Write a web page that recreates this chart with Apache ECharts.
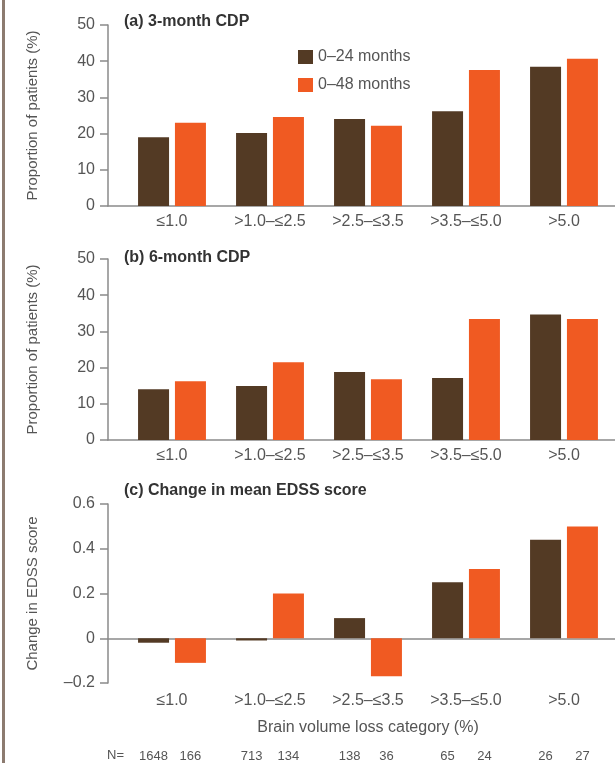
<!DOCTYPE html>
<html>
<head>
<meta charset="utf-8">
<script src="https://cdn.jsdelivr.net/npm/echarts@6/dist/echarts.min.js"></script>
<style>
  html, body { margin: 0; padding: 0; background: #ffffff; }
  #chart { width: 615px; height: 763px; }
</style>
</head>
<body>
<div id="chart"></div>
<script>
// Brain volume loss categories and the two observation windows
const categories = ['≤1.0', '>1.0–≤2.5', '>2.5–≤3.5', '>3.5–≤5.0', '>5.0'];
const seriesNames = ['0–24 months', '0–48 months'];

// (a) 3-month confirmed disability progression, % of patients
const cdp3m24 = [19.0, 20.2, 24.0, 26.2, 38.5];
const cdp3m48 = [23.0, 24.6, 22.2, 37.6, 40.7];

// (b) 6-month confirmed disability progression, % of patients
const cdp6m24 = [14.0, 14.9, 18.8, 17.1, 34.7];
const cdp6m48 = [16.2, 21.5, 16.8, 33.4, 33.4];

// (c) change in mean EDSS score
const edss24 = [-0.02, -0.01, 0.09, 0.25, 0.44];
const edss48 = [-0.11, 0.20, -0.17, 0.31, 0.50];

// patient counts per category
const n24 = [1648, 713, 138, 65, 26];
const n48 = [166, 134, 36, 24, 27];

const panelTitles = ['(a) 3-month CDP', '(b) 6-month CDP', '(c) Change in mean EDSS score'];
const yTitles = ['Proportion of patients (%)', 'Proportion of patients (%)', 'Change in EDSS score'];
const xTitle = 'Brain volume loss category (%)';

const BROWN = '#533a24';
const ORANGE = '#f05a22';
const TEXT = '#555555';
const AXIS = '#8a8a8a';
const FONT = 'Arial, "Liberation Sans", Helvetica, sans-serif';

const panels = [
  { top: 25,  height: 181, min: 0,    max: 50,  interval: 10,  a: cdp3m24, b: cdp3m48, titleTop: 14 },
  { top: 259, height: 181, min: 0,    max: 50,  interval: 10,  a: cdp6m24, b: cdp6m48, titleTop: 250 },
  { top: 504, height: 179, min: -0.2, max: 0.6, interval: 0.2, a: edss24,  b: edss48,  titleTop: 483 }
];

function tickFormat(i) {
  return function (v) {
    if (i < 2) return String(v);
    if (Math.abs(v) < 1e-9) return '0';
    return (v < 0 ? '–' : '') + Math.abs(v).toFixed(1);
  };
}

const grid = [], xAxis = [], yAxis = [], series = [], title = [];

panels.forEach(function (p, i) {
  // frame grid: carries the value axis and the zero baseline
  grid.push({ left: 108, right: 0, top: p.top, height: p.height });
  // bar grid: carries the category bands
  grid.push({ left: 123, right: 2, top: p.top, height: p.height });
  const gFrame = 2 * i, gBars = 2 * i + 1;

  xAxis.push({
    gridIndex: gFrame, type: 'category', data: [''],
    axisLine: { show: true, onZero: true, lineStyle: { color: AXIS, width: 1.5 } },
    axisTick: { show: false }, axisLabel: { show: false }, splitLine: { show: false }
  });
  yAxis.push({
    gridIndex: gFrame, type: 'value', min: p.min, max: p.max, interval: p.interval,
    axisLine: { show: true, lineStyle: { color: AXIS, width: 1.5 } },
    axisTick: { show: true, length: 8, lineStyle: { color: AXIS, width: 1.5 } },
    axisLabel: { color: TEXT, fontSize: 16, fontFamily: FONT, margin: 13, formatter: tickFormat(i) },
    splitLine: { show: false },
    name: yTitles[i], nameLocation: 'middle', nameGap: 68,
    nameTextStyle: { color: TEXT, fontSize: 15, fontFamily: FONT }
  });

  const catAxis = {
    gridIndex: gBars, type: 'category', data: categories,
    axisLine: { show: false, onZero: false }, axisTick: { show: false },
    axisLabel: { color: TEXT, fontSize: 16, fontFamily: FONT, margin: i === 2 ? 10 : 8 },
    splitLine: { show: false }
  };
  if (i === 2) {
    catAxis.name = xTitle;
    catAxis.nameLocation = 'middle';
    catAxis.nameGap = 37;
    catAxis.nameTextStyle = { color: TEXT, fontSize: 16, fontFamily: FONT };
  }
  xAxis.push(catAxis);
  yAxis.push({ gridIndex: gBars, type: 'value', min: p.min, max: p.max, interval: p.interval, show: false });

  const xi = 2 * i + 1, yi = 2 * i + 1;
  series.push({
    name: seriesNames[0], type: 'bar', xAxisIndex: xi, yAxisIndex: yi,
    data: p.a, barWidth: 31, barGap: '19%', itemStyle: { color: BROWN }, silent: true
  });
  series.push({
    name: seriesNames[1], type: 'bar', xAxisIndex: xi, yAxisIndex: yi,
    data: p.b, barWidth: 31, barGap: '19%', itemStyle: { color: ORANGE }, silent: true
  });

  title.push({
    text: panelTitles[i], left: 124, top: p.titleTop, padding: 0,
    textStyle: { color: '#333333', fontSize: 16, fontWeight: 'bold', fontFamily: FONT }
  });
});

// patient-count row under the lower panel, aligned with each bar
grid.push({ left: 123, right: 2, top: 753, height: 10 });
xAxis.push({ gridIndex: 6, type: 'category', data: categories, show: false });
yAxis.push({ gridIndex: 6, type: 'value', min: 0, max: 1e7, show: false });
[n24, n48].forEach(function (arr) {
  series.push({
    type: 'bar', xAxisIndex: 6, yAxisIndex: 6, data: arr, barWidth: 31, barGap: '19%',
    itemStyle: { color: 'rgba(0,0,0,0)' }, silent: true,
    label: { show: true, position: 'top', distance: 0, color: TEXT, fontSize: 13, fontFamily: FONT, formatter: '{c}' }
  });
});

const option = {
  animation: false,
  backgroundColor: '#ffffff',
  title: title,
  legend: {
    data: seriesNames, orient: 'vertical', left: 293, top: 44,
    itemWidth: 15, itemHeight: 14, itemGap: 12, icon: 'rect',
    textStyle: { color: TEXT, fontSize: 16, fontFamily: FONT }
  },
  grid: grid, xAxis: xAxis, yAxis: yAxis, series: series,
  graphic: [
    { type: 'rect', left: 2, top: 0, shape: { width: 3, height: 763 }, style: { fill: '#8c7b70' }, silent: true },
    { type: 'text', left: 107, top: 749, style: { text: 'N=', fill: TEXT, fontSize: 13, fontFamily: FONT }, silent: true }
  ]
};

const chart = echarts.init(document.getElementById('chart'), null, { renderer: 'canvas' });
chart.setOption(option);
</script>
</body>
</html>
